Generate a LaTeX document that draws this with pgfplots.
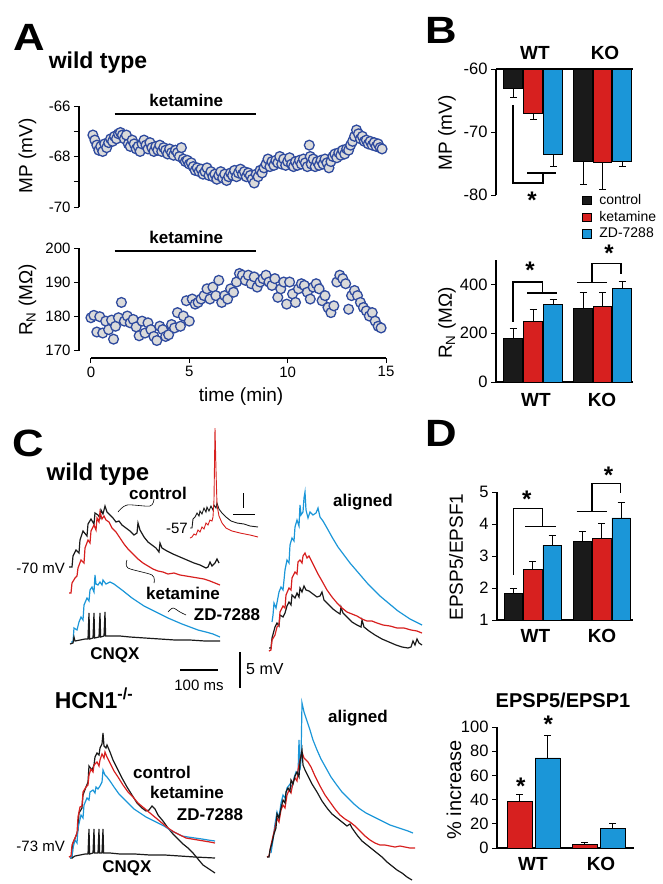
\documentclass[border=0pt]{standalone}
\usepackage{pgfplots}
\pgfplotsset{compat=1.18}
\usepackage{fontspec}
\setmainfont{Liberation Sans}
\definecolor{mkblue}{HTML}{2E4A9E}
\definecolor{mkfill}{HTML}{DADADA}
\definecolor{cred}{HTML}{D7201F}
\definecolor{cblue}{HTML}{1B96D8}
\definecolor{cblack}{HTML}{1A1A1A}
\newcommand{\fs}[1]{\fontsize{#1}{#1}\selectfont}
\tikzset{
  brk/.style={line width=1.2pt, black},
  star/.style={font=\bfseries\fs{24}, inner sep=0pt},
  trace/.style={line width=1.2pt},
}
\pgfplotsset{
  base/.style={scale only axis, anchor=south west,
    tick label style={font=\fs{15}}, /pgf/number format/assume math mode=true,
    tick style={black, line width=1pt}, axis line style={black, line width=1.2pt},
    tick align=outside, major tick length=5pt, minor tick length=5pt},
  barax/.style={base, clip=true, clip mode=individual, tick label style={font=\fs{16.5}},
    xtick=\empty, xmin=0, xmax=137},
  bars/.style={ybar, bar width=18.5, bar shift=0pt, draw=black, line width=0.8pt, forget plot,
    error bars/y explicit, error bars/error bar style={line width=1pt, black},
    error bars/error mark=|, error bars/error mark options={mark size=3.5pt, line width=1pt, black}},
  dots/.style={only marks, mark=*, mark size=4.9pt, mark options={fill=mkfill, draw=mkblue, line width=1.3pt}},
}
\begin{document}
\begin{tikzpicture}
\path[use as bounding box] (0pt,0pt) rectangle (662pt,-884pt);

% ---------------- Panel A: MP ----------------
\begin{axis}[base, clip=false, at={(79pt,-207pt)}, width=307pt, height=101pt,
  xmin=-0.606, xmax=15, ymin=-70, ymax=-66, axis x line=none, axis y line*=left,
  ytick={-70,-68,-66}, minor ytick={-69,-67}]
\addplot[dots] table {
t mp
0.1 -67.15
0.2 -67.35
0.3 -67.55
0.4 -67.75
0.5 -67.6
0.6 -67.8
0.7 -67.5
0.8 -67.65
0.9 -67.45
1.0 -67.3
1.1 -67.4
1.2 -67.2
1.3 -67.3
1.4 -67.1
1.5 -67.05
1.6 -67.15
1.7 -67.3
1.8 -67.15
1.9 -67.5
2.0 -67.6
2.1 -67.35
2.2 -67.5
2.3 -67.7
2.4 -67.6
2.5 -67.8
2.6 -67.5
2.7 -67.35
2.8 -67.55
2.9 -67.7
3.0 -67.45
3.1 -67.65
3.2 -67.8
3.3 -67.6
3.4 -67.75
3.5 -67.55
3.6 -67.8
3.7 -67.65
3.8 -67.75
3.9 -67.9
4.0 -67.7
4.1 -67.85
4.2 -67.95
4.3 -67.75
4.4 -67.85
4.5 -68.0
4.6 -67.65
4.7 -68.1
4.8 -68.2
4.9 -68.15
5.0 -68.3
5.1 -68.25
5.2 -68.4
5.3 -68.55
5.4 -68.45
5.5 -68.6
5.6 -68.5
5.7 -68.7
5.8 -68.6
5.9 -68.45
6.0 -68.75
6.1 -68.6
6.2 -68.8
6.3 -68.7
6.4 -68.9
6.5 -68.75
6.6 -68.6
6.7 -68.85
6.8 -68.7
6.9 -68.95
7.0 -68.8
7.1 -68.65
7.2 -68.75
7.3 -68.55
7.4 -68.8
7.5 -68.65
7.6 -68.5
7.7 -68.7
7.8 -68.6
7.9 -68.8
8.0 -68.65
8.1 -68.75
8.2 -68.9
8.3 -69.05
8.4 -68.7
8.5 -68.8
8.6 -68.55
8.7 -68.65
8.8 -68.45
8.9 -68.3
9.0 -68.1
9.1 -68.4
9.2 -68.2
9.3 -68.35
9.4 -68.15
9.5 -68.25
9.6 -68.0
9.7 -68.3
9.8 -68.1
9.9 -68.35
10.0 -68.2
10.1 -68.05
10.2 -68.3
10.3 -68.4
10.4 -68.2
10.5 -68.35
10.6 -68.15
10.7 -68.3
10.8 -68.1
10.9 -68.25
11.0 -68.4
11.1 -67.55
11.15 -68.0
11.2 -68.3
11.3 -68.1
11.4 -68.4
11.5 -68.2
11.6 -68.35
11.7 -68.15
11.8 -68.3
11.9 -68.1
12.0 -68.25
12.1 -68.45
12.2 -68.2
12.3 -68.0
12.4 -67.9
12.5 -68.05
12.6 -67.85
12.7 -67.95
12.8 -67.75
12.9 -67.9
13.0 -67.7
13.1 -67.75
13.2 -67.55
13.3 -67.4
13.4 -67.2
13.5 -66.95
13.6 -67.1
13.7 -67.3
13.8 -67.2
13.9 -67.4
14.0 -67.35
14.1 -67.5
14.2 -67.4
14.3 -67.55
14.4 -67.45
14.5 -67.6
14.6 -67.5
14.7 -67.65
14.8 -67.7
};
\draw[line width=2.6pt] (axis cs:1.2,-66.32) -- (axis cs:8.4,-66.32);
\node[font=\bfseries\fs{17}] at (axis cs:4.85,-65.76) {ketamine};
\end{axis}

% ---------------- Panel A: RN ----------------
\begin{axis}[base, clip=false, at={(79pt,-358pt)}, width=307pt, height=110pt,
  xmin=-0.606, xmax=15, ymin=167.66, ymax=200, axis lines*=left,
  xtick={0,5,10,15}, ytick={170,180,190,200},
  x axis line style={shorten <=12pt}, y axis line style={shorten <=7pt}]
\addplot[dots] table {
t rn
0.0 179.5
0.15 180.2
0.3 175.3
0.45 179.8
0.6 175.0
0.75 178.5
0.9 176.0
1.05 178.8
1.15 173.2
1.25 177.0
1.4 179.5
1.55 184.0
1.7 178.5
1.85 180.0
2.0 178.0
2.15 179.0
2.3 176.8
2.45 174.2
2.6 178.5
2.75 175.0
2.9 178.0
3.05 176.0
3.2 174.0
3.35 172.8
3.5 177.0
3.65 176.0
3.8 174.0
3.95 174.5
4.1 177.5
4.25 176.5
4.4 181.0
4.55 177.0
4.7 180.0
4.85 184.5
5.0 178.5
5.15 185.0
5.3 183.5
5.45 184.0
5.6 185.0
5.75 186.0
5.9 188.0
6.05 185.0
6.2 188.5
6.35 186.0
6.5 190.5
6.65 184.0
6.8 186.0
6.95 185.0
7.1 188.0
7.25 187.0
7.4 190.0
7.55 192.5
7.7 192.0
7.85 190.5
8.0 192.0
8.15 189.5
8.3 191.5
8.45 188.5
8.6 190.0
8.75 191.0
8.9 192.0
9.05 190.0
9.2 189.0
9.35 191.0
9.5 185.5
9.65 188.0
9.8 190.0
9.95 183.5
10.1 190.0
10.25 186.5
10.4 184.0
10.55 188.0
10.7 189.5
10.85 189.0
11.0 187.0
11.15 185.0
11.3 188.5
11.45 189.5
11.6 188.0
11.75 184.5
11.9 186.0
12.05 182.5
12.2 181.0
12.35 183.0
12.5 190.0
12.65 192.0
12.8 191.0
12.95 189.5
13.1 182.0
13.25 186.0
13.4 187.5
13.55 186.0
13.7 184.0
13.85 182.5
14.0 181.5
14.15 180.0
14.3 181.0
14.45 178.5
14.6 177.0
14.75 176.5
};
\draw[line width=2.6pt] (axis cs:1.2,199.1) -- (axis cs:8.4,199.1);
\node[font=\bfseries\fs{17}] at (axis cs:4.85,203.2) {ketamine};
\end{axis}

% ---------------- Panel B: MP bars ----------------
\begin{axis}[barax, at={(496pt,-195pt)}, width=137pt, height=126pt,
  ymin=-80, ymax=-60, axis x line*=top, axis y line*=left, ytick={-80,-70,-60},
  legend cell align=left,
  legend style={draw=none, fill=none, font=\fs{14}, anchor=north west, at={(0.628,0.02)},
    inner sep=0pt, row sep=1pt, /tikz/every odd column/.append style={column sep=6pt}},
  legend image code/.code={\draw[#1] (0pt,-4.2pt) rectangle (8.5pt,4.3pt);}]
\addplot[bars, fill=cblack, error bars/y dir=minus] coordinates {(17,-63.0) -= (0,1.6) (87,-74.7) -= (0,3.6)};
\addplot[bars, fill=cred, error bars/y dir=minus] coordinates {(37,-67.0) -= (0,1.0) (106.5,-74.8) -= (0,4.4)};
\addplot[bars, fill=cblue, error bars/y dir=minus] coordinates {(57,-73.6) -= (0,1.9) (126,-74.7) -= (0,0.7)};
\draw[brk] (axis cs:17,-65.7) -- (axis cs:17,-78.1) -- (axis cs:47,-78.1) -- (axis cs:47,-76.5);
\draw[brk] (axis cs:31,-76.5) -- (axis cs:60,-76.5);
\node[star] at (axis cs:36,-80.9) {*};
\addlegendimage{fill=cblack, draw=black, line width=0.6pt}\addlegendentry{control}
\addlegendimage{fill=cred, draw=black, line width=0.6pt}\addlegendentry{ketamine}
\addlegendimage{fill=cblue, draw=black, line width=0.6pt}\addlegendentry{ZD-7288}
\end{axis}

% ---------------- Panel B: RN bars ----------------
\begin{axis}[barax, at={(496pt,-382pt)}, width=137pt, height=122pt,
  ymin=0, ymax=500, axis lines*=left, ytick={0,200,400}]
\addplot[bars, fill=cblack, error bars/y dir=plus] coordinates {(17,178) += (0,41) (87,303) += (0,65)};
\addplot[bars, fill=cred, error bars/y dir=plus] coordinates {(37,249) += (0,47) (106.5,310) += (0,58)};
\addplot[bars, fill=cblue, error bars/y dir=plus] coordinates {(57,317) += (0,22) (126,382) += (0,31)};
\draw[brk] (axis cs:17,247) -- (axis cs:17,410) -- (axis cs:46.7,410) -- (axis cs:46.7,365);
\draw[brk] (axis cs:31,365) -- (axis cs:61,365);
\node[star] at (axis cs:34,458) {*};
\draw[brk] (axis cs:81,407) -- (axis cs:111,407);
\draw[brk] (axis cs:96,407) -- (axis cs:96,487) -- (axis cs:125,487) -- (axis cs:125,443);
\node[star] at (axis cs:113,527) {*};
\end{axis}

% ---------------- Panel D: EPSP5/EPSP1 ratio ----------------
\begin{axis}[barax, at={(497pt,-620pt)}, width=136pt, height=128pt,
  ymin=1, ymax=5, axis lines*=left, ytick={1,2,3,4,5}]
\addplot[bars, fill=cblack, error bars/y dir=plus] coordinates {(16.5,1.83) += (0,0.14) (86,3.46) += (0,0.30)};
\addplot[bars, fill=cred, error bars/y dir=plus] coordinates {(36,2.59) += (0,0.25) (105.5,3.55) += (0,0.46)};
\addplot[bars, fill=cblue, error bars/y dir=plus] coordinates {(55.5,3.33) += (0,0.31) (125,4.19) += (0,0.49)};
\draw[brk] (axis cs:17,2.41) -- (axis cs:17,4.49) -- (axis cs:45.7,4.49) -- (axis cs:45.7,3.92);
\draw[brk] (axis cs:28.3,3.92) -- (axis cs:59.7,3.92);
\node[star] at (axis cs:30,4.78) {*};
\draw[brk] (axis cs:80.3,4.39) -- (axis cs:111.3,4.39);
\draw[brk] (axis cs:95.7,4.39) -- (axis cs:95.7,5.27) -- (axis cs:124,5.27) -- (axis cs:124,4.98);
\node[star] at (axis cs:112.3,5.52) {*};
\end{axis}

% ---------------- Panel D: % increase ----------------
\begin{axis}[barax, at={(497pt,-848pt)}, width=137pt, height=121pt,
  ymin=0, ymax=100, axis lines*=left, ytick={0,20,40,60,80,100}]
\addplot[bars, bar width=25, fill=cred, error bars/y dir=plus] coordinates {(22.5,38.6) += (0,5.4) (87.5,2.6) += (0,1.8)};
\addplot[bars, bar width=25, fill=cblue, error bars/y dir=plus] coordinates {(50.5,74.4) += (0,18.4) (115.5,16.3) += (0,4.1)};
\node[star] at (axis cs:23.7,51) {*};
\node[star] at (axis cs:51.3,102) {*};
\end{axis}

% ---------------- Panel C: traces (pixel frame) ----------------
\begin{axis}[scale only axis, hide axis, clip=false, anchor=north west, at={(0pt,-420pt)},
  width=440pt, height=464pt, xmin=0, xmax=440, ymin=420, ymax=884, y dir=reverse]
% WT left
\addplot[trace, cblack] coordinates {(69,567)(72,567)(73,556)(76,550)(79,553)(80,540)(83,531)(87,536)(88,524)(91,519)(94,524)(95,513)(98,515)(100,518)(101,510)(103,514)(105,506)(107,512)(110,515)(113,518)(116,522)(119,521)(122,525)(126,528)(130,531)(134,535)(137,533)(138,523)(140,530)(144,537)(148,542)(152,545)(156,548)(159,552)(160,543)(162,548)(167,551)(173,554)(180,557)(187,560)(194,563)(200,565)(206,568)(208,567)(210,562)(212,566)(215,563)(217,559)(219,563)};
\addplot[trace, cred] coordinates {(69,593)(71,593)(72,583)(75,578)(77,576)(78,568)(81,560)(84,563)(85,548)(88,540)(90,543)(91,531)(94,525)(96,530)(97,518)(99,522)(100,512)(102,519)(104,516)(106,520)(109,522)(112,528)(116,532)(120,538)(124,544)(128,549)(133,554)(138,559)(143,563)(148,566)(153,569)(158,571)(163,572)(168,574)(174,573)(180,575)(186,576)(192,577)(198,578)(204,579)(210,581)(215,583)(220,585)};
\addplot[trace, cblue] coordinates {(71,642)(73,642)(74,628)(77,630)(79,622)(81,617)(83,620)(84,605)(87,598)(89,601)(90,590)(92,587)(94,592)(95,575)(96,584)(98,585)(100,582)(102,585)(103,580)(106,584)(110,582)(114,584)(118,587)(122,590)(127,594)(132,598)(138,602)(144,606)(150,609)(156,612)(162,615)(168,618)(175,621)(182,624)(190,627)(198,630)(206,632)(213,634)(220,637)};
\addplot[trace, cblack] coordinates {(70,644)(73,643)(74,637)(75,641)(80,640)(85,639)(88,639)(89,613)(89.6,639)(93,638)(94,613)(94.6,638)(99,637)(100,613)(100.6,637)(104,636)(105,612)(105.6,636)(110,636)(120,636)(130,637)(145,638)(160,639)(175,640)(190,640)(205,641)(220,641)};
% inset
\addplot[line width=0.9pt, cblack] coordinates {(190,528)(192,528)(193,519)(195,517)(197,513)(199,516)(200,511)(202,514)(204,508)(206,512)(207,507)(209,511)(211,506)(213,510)(214,505)(216,508)(217,503)(219,509)(222,513)(226,517)(231,521)(237,523)(244,524)(250,526)(258,527)};
\addplot[line width=0.9pt, cred] coordinates {(190,538)(192,537)(194,534)(196,535)(198,530)(200,532)(202,527)(204,529)(206,523)(208,525)(210,520)(212,521)(213,517)(214,500)(215,428)(216,470)(217,505)(219,516)(222,523)(226,528)(232,531)(240,533)(250,535)(258,537)};
% WT aligned
\addplot[trace, cblack] coordinates {(269,648)(271,648)(272,638)(275,627)(277,623)(279,626)(280,615)(283,617)(285,613)(287,606)(289,602)(291,605)(292,595)(295,598)(297,593)(299,597)(300,588)(302,592)(304,586)(306,590)(309,591)(313,594)(317,597)(320,596)(322,592)(324,600)(328,604)(333,609)(337,612)(340,614)(341,607)(343,613)(347,617)(352,622)(357,625)(361,627)(362,620)(364,627)(369,631)(375,635)(382,639)(389,642)(396,645)(402,647)(408,648)(411,647)(413,641)(415,645)(417,639)(419,643)(422,645)};
\addplot[trace, cred] coordinates {(269,651)(271,650)(272,640)(275,635)(277,627)(279,625)(280,612)(283,606)(285,608)(286,595)(289,588)(291,590)(292,578)(295,572)(297,574)(298,562)(300,560)(302,563)(303,556)(305,553)(307,558)(309,556)(311,560)(314,566)(318,574)(322,581)(327,590)(332,597)(337,603)(342,608)(347,612)(352,614)(357,616)(362,619)(367,621)(372,621)(377,623)(383,625)(390,626)(397,628)(404,628)(411,630)(417,631)(422,633)};
\addplot[trace, cblue] coordinates {(272,622)(273,615)(274,603)(276,608)(279,592)(281,587)(283,590)(285,570)(287,560)(289,563)(290,545)(292,538)(294,541)(295,527)(297,520)(299,526)(300,505)(301,515)(303,512)(304,498)(305,492)(306,510)(308,518)(310,512)(313,515)(316,513)(318,508)(320,517)(323,521)(327,528)(332,537)(338,547)(344,555)(350,563)(356,570)(362,577)(368,584)(374,590)(380,596)(386,601)(392,606)(398,611)(404,615)(410,619)(416,622)(422,625)};
% HCN1 left
\addplot[trace, cblack] coordinates {(70,858)(72,858)(73,843)(76,836)(78,830)(79,813)(82,808)(83,795)(86,787)(88,782)(89,766)(92,770)(94,765)(95,757)(97,753)(99,755)(100,748)(102,744)(103,733)(104,746)(106,748)(107,745)(110,752)(113,760)(117,768)(122,778)(127,787)(132,795)(137,803)(142,808)(146,811)(149,810)(152,806)(155,809)(158,815)(163,821)(168,828)(173,834)(178,839)(183,844)(188,848)(193,853)(198,859)(203,865)(209,869)(215,873)};
\addplot[trace, cblue] coordinates {(70,858)(72,857)(73,848)(75,840)(77,843)(78,828)(81,815)(83,818)(84,805)(87,798)(89,800)(90,792)(93,790)(95,793)(96,787)(98,789)(100,786)(102,782)(103,770)(105,775)(107,777)(110,781)(114,787)(119,794)(124,799)(129,804)(134,809)(140,813)(146,817)(152,820)(158,823)(164,826)(170,830)(176,833)(182,836)(188,837)(195,838)(202,839)(208,840)(215,841)};
\addplot[trace, cred] coordinates {(69,857)(71,856)(72,845)(75,838)(77,833)(78,817)(80,807)(82,806)(83,792)(86,787)(88,785)(89,775)(91,769)(93,772)(94,765)(97,762)(99,766)(100,760)(102,754)(104,758)(105,752)(107,757)(110,763)(114,771)(118,777)(123,785)(128,792)(133,797)(138,803)(144,808)(150,813)(156,818)(162,823)(168,828)(174,832)(180,835)(186,838)(192,839)(198,840)(204,841)(210,842)(215,843)};
\addplot[trace, cblack] coordinates {(72,858)(75,856)(80,855)(85,854)(88,854)(89,829)(89.6,854)(93,853)(94,829)(94.6,853)(98,853)(99,829)(99.6,853)(102,853)(103,829)(103.6,853)(110,853)(120,854)(135,854)(150,855)(165,855)(180,856)(195,857)(215,858)};
% HCN1 aligned
\addplot[trace, cblue] coordinates {(271,853)(273,840)(275,824)(277,812)(279,818)(281,803)(283,795)(285,798)(287,788)(290,784)(292,787)(294,778)(296,772)(298,775)(299,740)(300,770)(301,760)(302,703)(304,712)(306,718)(308,724)(310,730)(313,740)(317,750)(321,759)(326,768)(331,777)(336,784)(342,792)(348,798)(354,804)(360,809)(366,813)(372,816)(378,819)(384,822)(390,825)(396,827)(402,829)(408,831)(413,833)};
\addplot[trace, cred] coordinates {(267,857)(269,856)(271,845)(273,836)(275,828)(277,818)(279,822)(281,810)(283,805)(285,808)(287,795)(289,790)(291,793)(293,782)(295,778)(297,781)(298,770)(300,760)(302,752)(304,758)(306,760)(308,762)(311,767)(315,776)(320,786)(325,795)(330,802)(335,809)(340,815)(345,819)(350,822)(355,826)(360,831)(365,836)(370,840)(375,843)(380,845)(385,845)(390,846)(395,847)(400,846)(405,847)(410,848)(415,848)};
\addplot[trace, cblack] coordinates {(267,857)(269,857)(270,850)(272,843)(274,834)(276,828)(277,814)(279,818)(281,808)(283,800)(285,803)(286,792)(288,788)(290,791)(291,780)(293,784)(295,776)(297,772)(299,777)(300,762)(302,750)(303,765)(305,770)(308,776)(312,784)(317,792)(322,801)(327,808)(332,814)(337,818)(342,822)(347,826)(350,824)(352,828)(357,835)(362,841)(367,845)(372,849)(377,853)(382,857)(387,862)(392,866)(397,870)(402,873)(407,877)(412,880)};
% labels and scale bars
\node[font=\bfseries\fs{24}] at (axis cs:98,474) {wild type};
\node[font=\bfseries\fs{17}] at (axis cs:158,493) {control};
\node[font=\bfseries\fs{17}] at (axis cs:183,593) {ketamine};
\node[font=\bfseries\fs{17}] at (axis cs:227,615) {ZD-7288};
\node[font=\bfseries\fs{17}] at (axis cs:115,655) {CNQX};
\node[font=\fs{15}, anchor=east, inner sep=1pt] at (axis cs:66,568) {-70 mV};
\node[font=\fs{15}, anchor=east, inner sep=1pt] at (axis cs:189,528) {-57};
\node[font=\bfseries\fs{17}] at (axis cs:363,502) {aligned};
\draw[line width=0.6pt] plot[smooth] coordinates {(axis cs:118,512) (axis cs:127,505) (axis cs:150,506) (axis cs:154,499)};
\draw[line width=0.6pt] plot[smooth] coordinates {(axis cs:127,560) (axis cs:128,568) (axis cs:152,575) (axis cs:154,583)};
\draw[line width=0.6pt] plot[smooth] coordinates {(axis cs:168,612) (axis cs:173,608) (axis cs:180,612) (axis cs:186,615)};
\draw[line width=1pt] (axis cs:243,493) -- (axis cs:243,508);
\draw[line width=1pt] (axis cs:233,514) -- (axis cs:255,514);
\draw[line width=2pt] (axis cs:180,670) -- (axis cs:218,670);
\draw[line width=2pt] (axis cs:240,652) -- (axis cs:240,688);
\node[font=\fs{16}, anchor=west, inner sep=1pt] at (axis cs:245,669) {5 mV};
\node[font=\fs{15}] at (axis cs:199,685) {100 ms};
\node[font=\bfseries\fs{23}] at (axis cs:94,698) {HCN1\textsuperscript{-/-}};
\node[font=\bfseries\fs{17}] at (axis cs:162,772) {control};
\node[font=\bfseries\fs{17}] at (axis cs:187,792) {ketamine};
\node[font=\bfseries\fs{17}] at (axis cs:210,815) {ZD-7288};
\node[font=\bfseries\fs{17}] at (axis cs:127,868) {CNQX};
\node[font=\fs{15}, anchor=east, inner sep=1pt] at (axis cs:66,846) {-73 mV};
\node[font=\bfseries\fs{17}] at (axis cs:358,718) {aligned};
\end{axis}

% ---------------- global labels ----------------
\node[font=\bfseries\fs{38}, xscale=1.15] at (29pt,-37pt) {A};
\node[font=\bfseries\fs{38}, xscale=1.15] at (441pt,-30pt) {B};
\node[font=\bfseries\fs{38}, xscale=1.15] at (28pt,-443pt) {C};
\node[font=\bfseries\fs{38}, xscale=1.15] at (441pt,-433pt) {D};
\node[font=\bfseries\fs{23}] at (98pt,-63pt) {wild type};
\node[font=\fs{19}, rotate=90] at (27.5pt,-156pt) {MP (mV)};
\node[font=\fs{19}, rotate=90] at (27.5pt,-300pt) {R\textsubscript{N} (MΩ)};
\node[font=\fs{19}] at (241pt,-397pt) {time (min)};
\node[font=\fs{19}, rotate=90] at (447pt,-133pt) {MP (mV)};
\node[font=\fs{19}, rotate=90] at (447pt,-323pt) {R\textsubscript{N} (MΩ)};
\node[font=\bfseries\fs{19}] at (535pt,-53pt) {WT};
\node[font=\bfseries\fs{19}] at (605pt,-53pt) {KO};
\node[font=\bfseries\fs{19}] at (536pt,-400pt) {WT};
\node[font=\bfseries\fs{19}] at (602pt,-400pt) {KO};
\node[font=\fs{19}, rotate=90] at (456pt,-557pt) {EPSP5/EPSF1};
\node[font=\bfseries\fs{19}] at (535.5pt,-636pt) {WT};
\node[font=\bfseries\fs{19}] at (602pt,-636pt) {KO};
\node[font=\bfseries\fs{20}] at (563pt,-700pt) {EPSP5/EPSP1};
\node[font=\fs{20}, rotate=90] at (454pt,-790pt) {\% increase};
\node[font=\bfseries\fs{19}] at (533pt,-864pt) {WT};
\node[font=\bfseries\fs{19}] at (601pt,-864pt) {KO};
\end{tikzpicture}
\end{document}
